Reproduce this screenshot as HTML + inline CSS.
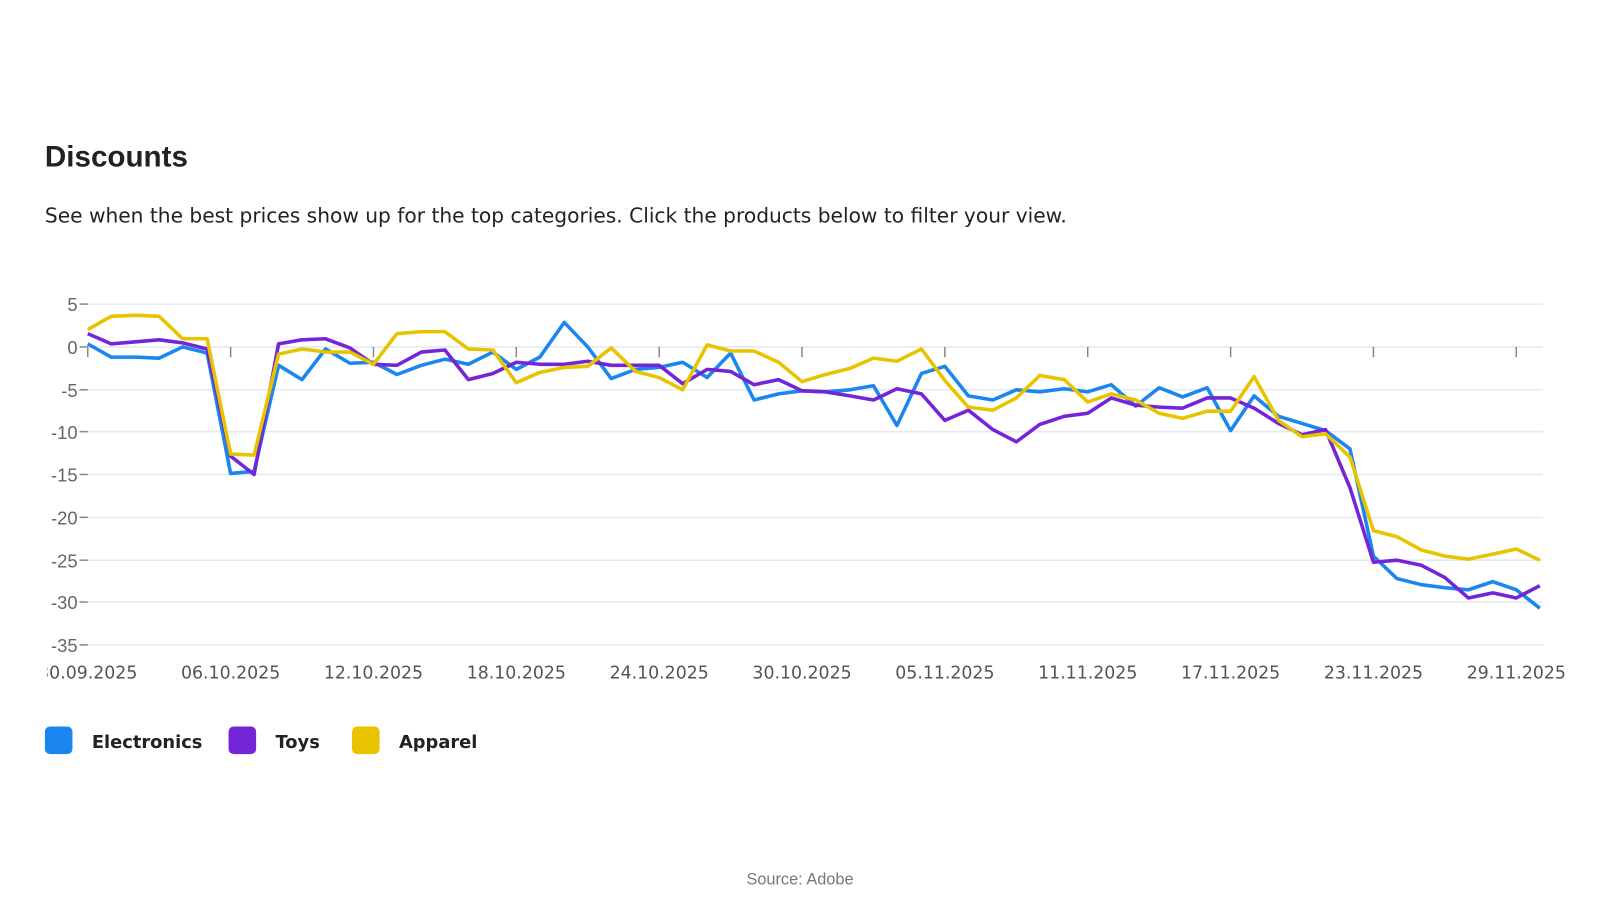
<!DOCTYPE html>
<html><head><meta charset="utf-8"><style>
body{margin:0;width:1600px;height:900px;background:#fff;font-family:"DejaVu Sans","Liberation Sans",sans-serif;overflow:hidden;position:relative}
#w{position:absolute;left:0;top:0;width:1568px;height:882px;transform:scale(1.0204);transform-origin:0 0}
h1{position:absolute;left:44px;top:138px;margin:0;font-size:29px;font-weight:bold;color:#222;font-family:"Liberation Sans",sans-serif}
.sub{position:absolute;left:44px;top:200px;font-size:19.8px;color:#222}
.src{position:absolute;left:0;width:1568px;top:854px;text-align:center;font-size:16px;color:#777;font-family:"Liberation Sans",sans-serif}
</style></head><body><div id="w">
<h1>Discounts</h1>
<div class="sub">See when the best prices show up for the top categories. Click the products below to filter your view.</div>
<svg width="1568" height="882" style="position:absolute;left:0;top:0">
<g stroke="#e6e8f4" stroke-width="1.5">
<line x1="86" x2="1512" y1="298" y2="298"/><line x1="86" x2="1512" y1="340" y2="340"/><line x1="86" x2="1512" y1="382" y2="382"/><line x1="86" x2="1512" y1="423" y2="423"/><line x1="86" x2="1512" y1="465" y2="465"/><line x1="86" x2="1512" y1="507" y2="507"/><line x1="86" x2="1512" y1="549" y2="549"/><line x1="86" x2="1512" y1="590" y2="590"/><line x1="86" x2="1512" y1="632" y2="632"/>
</g>
<g stroke="#888" stroke-width="1.5">
<line x1="78" x2="86" y1="298" y2="298"/><line x1="78" x2="86" y1="340" y2="340"/><line x1="78" x2="86" y1="382" y2="382"/><line x1="78" x2="86" y1="423" y2="423"/><line x1="78" x2="86" y1="465" y2="465"/><line x1="78" x2="86" y1="507" y2="507"/><line x1="78" x2="86" y1="549" y2="549"/><line x1="78" x2="86" y1="590" y2="590"/><line x1="78" x2="86" y1="632" y2="632"/>
<line x1="86" x2="86" y1="340" y2="350"/><line x1="226" x2="226" y1="340" y2="350"/><line x1="366" x2="366" y1="340" y2="350"/><line x1="506" x2="506" y1="340" y2="350"/><line x1="646" x2="646" y1="340" y2="350"/><line x1="786" x2="786" y1="340" y2="350"/><line x1="926" x2="926" y1="340" y2="350"/><line x1="1066" x2="1066" y1="340" y2="350"/><line x1="1206" x2="1206" y1="340" y2="350"/><line x1="1346" x2="1346" y1="340" y2="350"/><line x1="1486" x2="1486" y1="340" y2="350"/>
</g>
<g font-family="Liberation Sans,sans-serif" font-size="18" fill="#666" text-anchor="end">
<text x="76" y="305">5</text><text x="76" y="347">0</text><text x="76" y="389">-5</text><text x="76" y="430">-10</text><text x="76" y="472">-15</text><text x="76" y="514">-20</text><text x="76" y="556">-25</text><text x="76" y="597">-30</text><text x="76" y="639">-35</text>
</g>
<g font-family="DejaVu Sans,sans-serif" font-size="17" fill="#555" text-anchor="middle">
<text x="86" y="665">30.09.2025</text><text x="226" y="665">06.10.2025</text><text x="366" y="665">12.10.2025</text><text x="506" y="665">18.10.2025</text><text x="646" y="665">24.10.2025</text><text x="786" y="665">30.10.2025</text><text x="926" y="665">05.11.2025</text><text x="1066" y="665">11.11.2025</text><text x="1206" y="665">17.11.2025</text><text x="1346" y="665">23.11.2025</text><text x="1486" y="665">29.11.2025</text>
</g>
<rect x="0" y="645" width="46" height="30" fill="#fff"/>
<g fill="none" stroke-width="3.5" stroke-linejoin="round">
<polyline stroke="#1a86f0" points="86,337 109,350 133,350 156,351 179,340 203,346 226,464 249,462 273,358 296,372 319,342 343,356 366,355 389,367 413,358 436,352 459,357 483,345 506,362 529,350 553,316 576,340 599,371 623,362 646,360 669,355 693,370 716,346 739,392 763,386 786,383 809,384 833,382 856,378 879,417 903,366 926,359 949,388 973,392 996,382 1019,384 1043,381 1066,384 1089,377 1113,398 1136,380 1159,389 1183,380 1206,422 1229,388 1253,408 1276,415 1299,422 1323,440 1346,545 1369,567 1393,573 1416,576 1439,578 1463,570 1486,578 1509,596"/>
<polyline stroke="#7425d8" points="86,327 109,337 133,335 156,333 179,336 203,342 226,447 249,465 273,337 296,333 319,332 343,341 366,357 389,358 413,345 436,343 459,372 483,366 506,355 529,357 553,357 576,354 599,358 623,358 646,358 669,376 693,362 716,364 739,377 763,372 786,383 809,384 833,388 856,392 879,381 903,386 926,412 949,402 973,421 996,433 1019,416 1043,408 1066,405 1089,390 1113,397 1136,399 1159,400 1183,390 1206,390 1229,400 1253,415 1276,426 1299,421 1323,478 1346,551 1369,549 1393,554 1416,566 1439,586 1463,581 1486,586 1509,574"/>
<polyline stroke="#e8c400" points="86,323 109,310 133,309 156,310 179,332 203,332 226,445 249,446 273,347 296,342 319,345 343,345 366,357 389,327 413,325 436,325 459,342 483,343 506,375 529,365 553,360 576,359 599,341 623,364 646,370 669,382 693,338 716,344 739,344 763,355 786,374 809,367 833,361 856,351 879,354 903,342 926,373 949,399 973,402 996,390 1019,368 1043,372 1066,394 1089,386 1113,392 1136,405 1159,410 1183,403 1206,403 1229,369 1253,412 1276,428 1299,425 1323,448 1346,520 1369,526 1393,539 1416,545 1439,548 1463,543 1486,538 1509,549"/>
</g>
<rect x="44" y="712" width="27" height="27" rx="5" fill="#1a86f0"/>
<rect x="224" y="712" width="27" height="27" rx="5" fill="#7425d8"/>
<rect x="345" y="712" width="27" height="27" rx="5" fill="#e8c400"/>
<g font-family="DejaVu Sans,sans-serif" font-size="17.5" font-weight="bold" fill="#222">
<text x="90" y="733">Electronics</text><text x="270" y="733">Toys</text><text x="391" y="733">Apparel</text>
</g>
</svg>
<div class="src">Source: Adobe</div>
</div></body></html>
